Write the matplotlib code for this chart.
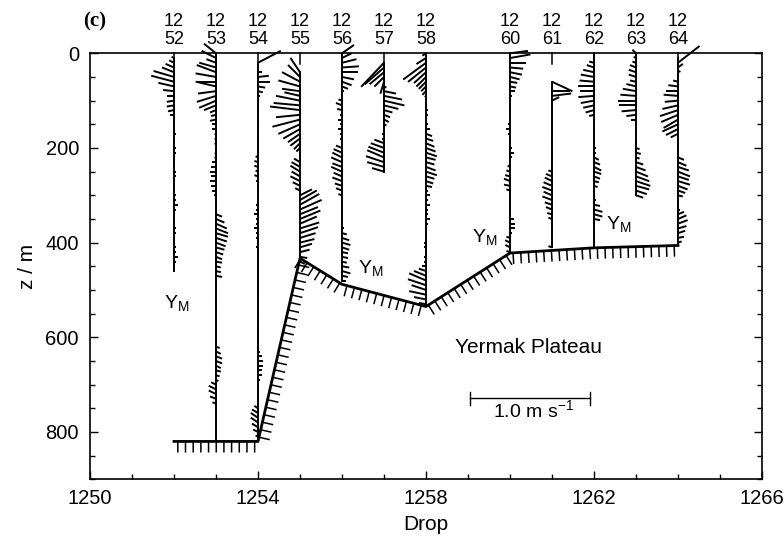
import numpy as np
import matplotlib
matplotlib.use("Agg")
import matplotlib.pyplot as plt
from matplotlib.collections import LineCollection
import matplotlib.patheffects as pe
from matplotlib.transforms import blended_transform_factory

plt.rcParams['font.family'] = 'Liberation Sans'
plt.rcParams['mathtext.fontset'] = 'custom'
plt.rcParams['mathtext.rm'] = 'Liberation Sans'

# stations (drops) and the depth of the first velocity estimate (m)
drops = [1252, 1253, 1254, 1255, 1256, 1257, 1258, 1260, 1261, 1262, 1263, 1264]
z_first = [10, 0, 20, 40, 0, 20, 0, 0, 60, 0, 0, 10]
z_step = 10

# east (u) and north (v) velocity, cm/s, every 10 m
u_1252 = [-2, -4, -7, -10, -17, -19, -13, -9, -6, -6, -6, -5, -3, -1,
          1, 1, 2, 1, 1, 2, 2, 1, 1, 1, 2, 2, 1, 1, 1, 2, 2, 3, 2, 1, 1, 1,
          2, 2, 1, 1, 2, 2, 3, 2, 1, 1]
v_1252 = [1, 2, 3, 4, 5, 5, 3, 1, 0, -1, -1, -1, 0, 0] + [0] * 32

u_1253 = [-10, -12, -8, -14, -16, -17, -16, -17, -15, -16, -14, -10, -5, -4, -5, -3, -3,
          -1, -1, -1, 0, -1, -1,
          -3, -4, -5, -4, -5, -4, -3, -2,
          0, 1, 1,
          5, 7, 9, 10, 10, 9, 8, 7, 6, 5, 5, 4, 4, 5,
          1, 1, 0, 0, -1, 0, 1, 0, 0, 1, 1, 0, 0, 1,
          3, 4, 5, 5, 4, 4, 3, 2,
          -4, -6, -6, -5, -3,
          1, 1, 0, 1, 1, 0, 1, 0]
v_1253 = [8, 6, 3, 4, 6, 3, 0, 4, -2, -5, -6, -4, -2, -1, -1, 0, 0,
          -1, -1, -1, 0, -1, -1,
          0, 0, 0, 0, 0, 0, 0, 0,
          0, 0, 0,
          -2, -3, -4, -4, -3, -3, -3, -2, -2, -2, -1, -1, -1, -1,
          0, 0, 0, 0, 0, 0, 0, 0, 0, 0, 0, 0, 0, 0,
          -1, -2, -2, -2, -2, -1, -1, -1,
          2, 3, 3, 2, 1,
          0, 0, 0, 0, 0, 0, 0, 0]

u_1254 = [19, 0, 3, 9, 10, 6, 4, 2,
          1, 0, -1, 0, 1, 1, 0, 0, -1, 0, 1, 0,
          -2, -3, -3, -2, -3, -2, -1,
          0, 0, 1,
          -2, -2, -3, -2, -2, -3, -2, -2, -1, -2, -1,
          0, 1, 1, 0, -1, 0, 1, 1, 0, 0, -1, 0, 1, 1, 0, 0, 1, 1, 0, 0,
          2, 3, 4, 4, 3, 3, 2,
          0, 1, 0, -1, 0,
          -3, -5, -6, -6, -5, -4, -2]
v_1254 = [10, 0, 0, 1, 0, -1, -1, 0,
          0, 0, 0, 0, 0, 0, 0, 0, 0, 0, 0, 0,
          1, 1, 1, 1, 1, 0, 0,
          0, 0, 0,
          0, 0, 0, 0, 0, 0, 0, 0, 0, 0, 0,
          0, 0, 0, 0, 0, 0, 0, 0, 0, 0, 0, 0, 0, 0, 0, 0, 0, 0, 0, 0,
          0, 0, 0, 0, 0, 0, 0,
          0, 0, 0, 0, 0,
          2, 3, 4, 4, 3, 2, 1]

u_1255 = [-8, -10, -15, -18, -15, -13, -20, -22, -25, -20, -23, -18, -14, -10, -8, -5, -3, -1, 0,
          -5, -7, -8, -7, -8, -6, -4,
          10, 14, 16, 18, 15, 17, 14, 16, 15, 13, 12, 10, 8,
          6, 4]
v_1255 = [12, 10, 8, 5, 2, 3, 4, 2, 3, -2, -6, -8, -8, -7, -6, -5, -3, 0, 0,
          3, 4, 5, 4, 4, 3, 2,
          5, 8, 9, 8, 6, 7, 6, 5, 5, 4, 3, 3, 2,
          -1, -2]

u_1256 = [10, 8, 12, 14, 13, 10, 8, 5, 2, 0, -3, -5, -4,
          -2, -3, -2, -3, -2, -2, -1,
          -5, -7, -8, -9, -8, -9, -7, -8, -6, -5, -3,
          0, 1, 1, 0, 1, 1, 2,
          4, 6, 7, 6, 5, 5, 4,
          6, 7, 5, 3]
v_1256 = [7, 4, 3, 1, 0, -2, -3, -2, 0, 0, 1, 2, 1,
          0, 0, 0, 0, 0, 0, 0,
          2, 3, 4, 4, 3, 4, 3, 3, 2, 2, 1,
          0, 0, 0, 0, 0, 0, 0,
          -1, -2, -2, -2, -1, -1, -1,
          -1, -2, -1, 0]

u_1257 = [-19, -16, -12, -8, -3, 2, 10, 15, 17, 12, 7, 5, 4, 2, -1, -2, -2,
          -8, -11, -13, -14, -15, -14, -10]
v_1257 = [-20, -14, -10, -8, -10, -1, -2, -3, -4, -3, -2, -2, -2, -1, 0, 0, 0,
          3, 4, 5, 6, 5, 4, 3]

u_1258 = [-3, -8, -19, -15, -10, -8, -6, -4, -3, -1,
          1, 1, 2, 2, 1, 2, 3,
          5, 6, 7, 8, 9, 8, 7, 8, 9, 7, 6, 5,
          2, 3, 2, 3, 2, 2, 3, 2, 1, 1,
          -1, -2, -2, -1, -2, -2, -3,
          -6, -10, -14, -15, -12, -14, -10, -6]
v_1258 = [-2, -5, -14, -12, -9, -8, -6, -4, -3, -1,
          0, 0, 0, 0, 0, 0, 0,
          -2, -2, -3, -3, -3, -2, -2, -3, -3, -2, -2, -1,
          0, 0, 0, 0, 0, 0, 0, 0, 0, 0,
          0, 0, 0, 0, 0, 0, 0,
          2, 4, 6, 5, 4, 3, 2, 1]

u_1260 = [15, 17, 13, 11, 10, 8, 6, 5, 4, 2,
          1, 0, 1, 0, -1,
          -2, -3, -2, -1,
          1, 2, 3, 2, 1,
          -2, -3, -4, -5, -5, -3, -1,
          0, 1, 0, 1,
          3, 4, 4, 2,
          -3, -4, -4, -3]
v_1260 = [2, 3, 0, -1, -2, -2, -1, -1, 0, 0,
          0, 0, 0, 0, 0,
          0, 0, 0, 0,
          0, 0, 0, 0, 0,
          1, 1, 1, 2, 1, 1, 0,
          0, 0, 0, 0,
          0, 0, 0, 0,
          1, 2, 2, 1]

u_1261 = [17, 0, 15, 16, 6,
          1, 0, 1, 1, 0, 0, 1, 0, -1, 0, 1, 0, 0, -1,
          -3, -5, -6, -7, -8, -7, -8, -6, -5, -4, -3,
          0, 1, 0, 0, 1,
          -3]
v_1261 = [-8, 0, 0, 2, 3,
          0, 0, 0, 0, 0, 0, 0, 0, 0, 0, 0, 0, 0, 0,
          1, 2, 3, 3, 3, 3, 3, 2, 2, 1, 1,
          0, 0, 0, 0, 0,
          1]

u_1262 = [0, 0, -4, -6, -9, -11, -12, -13, -12, -13, -11, -9, -7, -4,
          -1, 0, 0, -1, 0, 1, 2, 2,
          4, 5, 6, 6, 5, 4, 3,
          1, 1, 2,
          5, 7, 7, 5,
          1, 0, 1, 1, 0, 0]
v_1262 = [0, 0, 1, 2, 2, 2, 1, 0, 0, -1, -2, -2, -2, -1,
          0, 0, 0, 0, 0, 0, 0, 0,
          -2, -2, -3, -2, -2, -1, -1,
          0, 0, 0,
          -1, -2, -2, -1,
          0, 0, 0, 0, 0, 0]

u_1263 = [-3, -2, -3, -5, -6, -6, -5, -8, -11, -13, -15, -14, -12, -8, -4,
          -1, 0, 1, 0, 1,
          3, 4, 3,
          6, 8, 10, 11, 12, 11, 9, 6]
v_1263 = [3, 1, 1, 2, 2, 2, 1, 2, 2, 1, 0, 0, -1, -1, 0,
          0, 0, 0, 0, 0,
          -1, -1, -1,
          -2, -3, -4, -4, -4, -3, -3, -2]

u_1264 = [0, 18, 4, 2, 1, -4, -8, -10, -12, -11, -13, -15, -14, -12, -13, -10, -6,
          -1, 0, 1, 1,
          5, 7, 9, 10, 9, 10, 8, 6, 4,
          1, 1, 2,
          5, 7, 8, 7, 6, 5, 3]
v_1264 = [0, 14, 3, 1, 0, 1, 1, 0, 1, -1, -3, -5, -6, -7, -6, -5, -3,
          0, 0, 0, 0,
          -2, -3, -3, -4, -3, -3, -3, -2, -1,
          0, 0, 0,
          2, 3, 3, 2, 2, 1, 1]

u_all = [u_1252, u_1253, u_1254, u_1255, u_1256, u_1257,
         u_1258, u_1260, u_1261, u_1262, u_1263, u_1264]
v_all = [v_1252, v_1253, v_1254, v_1255, v_1256, v_1257,
         v_1258, v_1260, v_1261, v_1262, v_1263, v_1264]

# sea floor under the section (drop, depth m)
bottom_drop = [1252, 1254, 1255, 1256, 1258, 1260, 1262, 1264]
bottom_z = [820, 820, 433, 488, 535, 422, 411, 406]

ym_drop = [1251.76, 1256.38, 1259.1, 1262.28]
ym_z = [539, 465, 401, 373]

stick_px = 120.0  # 1 m/s drawn as 120 pixels

fig = plt.figure(figsize=(7.84, 5.38), dpi=100)
ax = fig.add_axes([90 / 784, 1 - 479.3 / 538, 672 / 784, 426 / 538])
ax.set_xlim(1250, 1266)
ax.set_ylim(900, 0)

ax_w = fig.get_figwidth() * fig.dpi * ax.get_position().width
ax_h = fig.get_figheight() * fig.dpi * ax.get_position().height
sx = stick_px / (ax_w / 16.0)
sz = stick_px / (ax_h / 900.0)

segs = []
for d, z0, u, v in zip(drops, z_first, u_all, v_all):
    z = z0 + z_step * np.arange(len(u))
    uu = np.array(u) / 100.0
    vv = np.array(v) / 100.0
    for zi, ui, vi in zip(z, uu, vv):
        segs.append([(d, zi), (d + ui * sx, zi - vi * sz)])
    ax.plot([d, d], [0, 22], color='k', lw=1.1, clip_on=False)
    ax.plot([d, d], [z[0], z[-1]], color='k', lw=1.4)
lc = LineCollection(segs, colors='k', linewidths=1.4, clip_on=False)
ax.add_collection(lc)

ax.plot(bottom_drop, bottom_z, color='k', lw=2,
        path_effects=[pe.withTickedStroke(angle=-90, spacing=5.5, length=1.35, linewidth=1.1)])

for x, z in zip(ym_drop, ym_z):
    ax.text(x, z, r'Y$_\mathregular{M}$', fontsize=14, ha='left', va='baseline')

ax.text(1260.45, 622, 'Yermak Plateau', fontsize=15, ha='center', va='center')

# 1 m/s scale bar
x0 = 1259.05
ax.plot([x0, x0 + sx], [729, 729], color='k', lw=1.0)
ax.plot([x0, x0], [715, 743], color='k', lw=1.0)
ax.plot([x0 + sx, x0 + sx], [715, 743], color='k', lw=1.0)
ax.text(1260.55, 756, r'1.0 m s$^{\mathregular{-1}}$', fontsize=14, ha='center', va='center')

# drop numbers above the frame
tr = blended_transform_factory(ax.transData, fig.transFigure)
for d in drops:
    ax.text(d, 1 - 21.7 / 538, str(d // 100), transform=tr, ha='center', va='center', fontsize=13)
    ax.text(d, 1 - 40 / 538, '%02d' % (d % 100), transform=tr, ha='center', va='center', fontsize=13)

fig.text(95 / 784, 1 - 21.7 / 538, '(c)', family='Liberation Serif', weight='bold',
         fontsize=15, ha='center', va='center')

ax.set_xticks([1250, 1254, 1258, 1262, 1266])
ax.set_xticks(np.arange(1250, 1267, 1), minor=True)
ax.set_yticks([0, 200, 400, 600, 800])
ax.set_yticks(np.arange(0, 901, 50), minor=True)
ax.tick_params(which='both', direction='in', left=True, right=True, bottom=True, top=False,
               labelsize=14.5, width=1.0)
ax.tick_params(which='major', length=6)
ax.tick_params(which='minor', length=3.5)
ax.tick_params(axis='y', pad=8)
ax.tick_params(axis='x', pad=7)
for s in ax.spines.values():
    s.set_linewidth(1.2)

ax.set_xlabel('Drop', fontsize=15, labelpad=5)
ax.set_ylabel('z / m', fontsize=15, labelpad=6)

fig.savefig('out.png', dpi=100)
